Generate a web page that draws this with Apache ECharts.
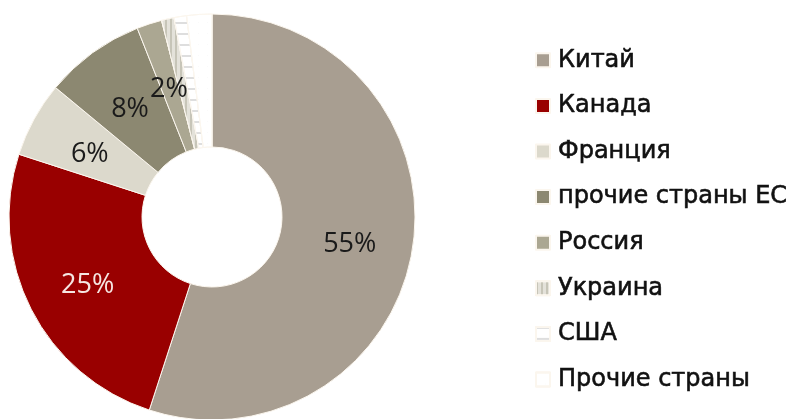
<!DOCTYPE html>
<html><head><meta charset="utf-8">
<script src="https://cdn.jsdelivr.net/npm/echarts@6/dist/echarts.min.js"></script>
<style>html,body{margin:0;padding:0;background:#fff}#c{width:795px;height:419px}</style>
</head><body><div id="c"></div>
<script>
const categories = ['Китай','Канада','Франция','прочие страны ЕС','Россия','Украина','США','Прочие страны'];
const values = [55, 25, 6, 8, 2, 1, 1, 2];
const labelTexts = ['55%','25%','6%','8%','2%','','',''];
const colors = ['#a89e91','#990000','#dcd9cc','#8c8871','#aba792','#e4e2da','#ffffff','#ffffff'];

const chart = echarts.init(document.getElementById('c'));
const data = categories.map((name, i) => {
  const d = { name, value: values[i], itemStyle: { color: colors[i] } };
  if (!labelTexts[i]) d.label = { show: false };
  if (i === 1) d.label = { color: '#f6e6e2' };
  if (i === 5) d.itemStyle.decal = { symbol: 'rect', color: 'rgba(170,168,150,0.5)', dashArrayX: [[2, 3]], dashArrayY: [1, 0] };
  if (i === 6) d.itemStyle.decal = { symbol: 'rect', color: 'rgba(190,190,190,0.5)', dashArrayX: [1, 0], dashArrayY: [2, 9], rotation: 0 };
  if (i === 7) d.itemStyle.decal = { symbol: 'circle', symbolSize: 0.4, color: 'rgba(190,190,190,0.6)', dashArrayX: [1, 8], dashArrayY: [1, 10] };
  return d;
});
chart.setOption({
  animation: false,
  legend: {
    orient: 'vertical', left: 535, top: 48, padding: 0, itemWidth: 14, itemHeight: 14, itemGap: 21,
    icon: 'rect',
    data: categories,
    textStyle: { fontFamily: 'DejaVu Sans', fontSize: 24, color: '#111', textBorderColor: '#111', textBorderWidth: 0.6, lineHeight: 24, padding: [0,0,0,3] }
  },
  series: [{
    type: 'pie',
    center: [212, 217],
    radius: [70, 203],
    startAngle: 90,
    clockwise: true,
    avoidLabelOverlap: false,
    itemStyle: { borderColor: '#fbf6ee', borderWidth: 1 },
    label: {
      show: true, position: 'inside', offset: [0, 5],
      formatter: p => labelTexts[p.dataIndex],
      fontFamily: 'Open Sans', fontSize: 27, color: '#1a1a1a'
    },
    labelLine: { show: false },
    emphasis: { disabled: true },
    data
  }]
});
</script></body></html>
